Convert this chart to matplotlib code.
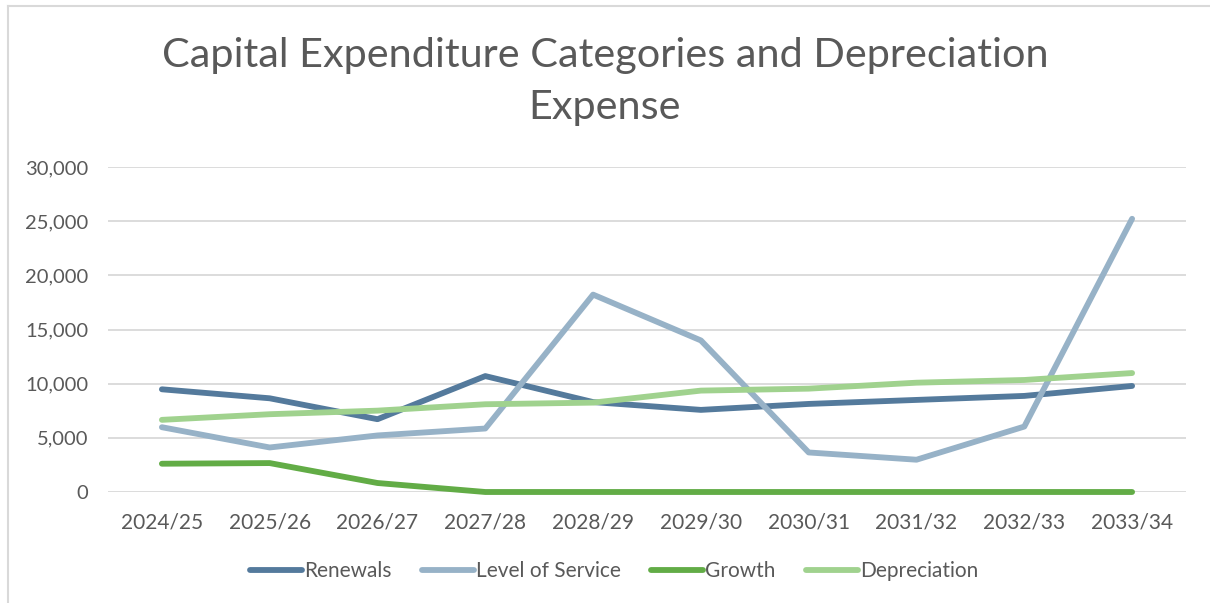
import matplotlib.pyplot as plt
from matplotlib.lines import Line2D
import numpy as np

plt.rcParams['font.family'] = ['Lato', 'DejaVu Sans']

years = ['2024/25', '2025/26', '2026/27', '2027/28', '2028/29',
         '2029/30', '2030/31', '2031/32', '2032/33', '2033/34']
renewals = [9480, 8650, 6720, 10700, 8300, 7580, 8130, 8500, 8870, 9790]
level_of_service = [5980, 4110, 5220, 5860, 18220, 13990, 3650, 2980, 6040, 25220]
growth = [2610, 2670, 830, 0, 0, 0, 0, 0, 0, 0]
depreciation = [6660, 7180, 7510, 8100, 8250, 9360, 9540, 10090, 10340, 10980]

SERIES = [
    ('Renewals', renewals, '#547A9C'),
    ('Level of Service', level_of_service, '#97B2C7'),
    ('Growth', growth, '#62AC46'),
    ('Depreciation', depreciation, '#A0D28E'),
]
TEXT_COLOR = '#595959'
GRID_COLOR = '#D9D9D9'

W, H = 1210, 603
fig = plt.figure(figsize=(W / 100, H / 100), dpi=100)
ax = fig.add_axes([108 / W, 1 - 492 / H, (1186 - 108) / W, (492 - 167) / H])

x = np.arange(len(years))
for name, vals, color in SERIES:
    ax.plot(x, vals, color=color, linewidth=4.2, solid_capstyle='round',
            solid_joinstyle='round', label=name, zorder=3, clip_on=False)

ax.set_xlim(-0.5, len(years) - 0.5)
ax.set_ylim(0, 30000)
ax.set_yticks(np.arange(0, 30001, 5000))
ax.set_yticklabels([f'{v:,}' for v in range(0, 30001, 5000)])
ax.set_xticks(x)
ax.set_xticklabels(years)
ax.grid(axis='y', color=GRID_COLOR, linewidth=1.3)
ax.set_axisbelow(True)
for spine in ax.spines.values():
    spine.set_visible(False)
ax.tick_params(axis='both', length=0, labelsize=14.5, labelcolor=TEXT_COLOR)
ax.tick_params(axis='x', labelsize=15, pad=15)
ax.tick_params(axis='y', pad=14)

fig.text(0.5, 1 - 55 / H, 'Capital Expenditure Categories and Depreciation',
         ha='center', va='center', fontsize=29.8, color=TEXT_COLOR)
fig.text(0.5, 1 - 108 / H, 'Expense',
         ha='center', va='center', fontsize=29.8, color=TEXT_COLOR)

handles = [Line2D([], [], color=c, linewidth=4.2, solid_capstyle='round') for _, _, c in SERIES]
fig.legend(handles, [s[0] for s in SERIES], loc='center', bbox_to_anchor=(614 / W, 1 - 571 / H),
           ncol=4, frameon=False, fontsize=15, labelcolor=TEXT_COLOR,
           handlelength=2.5, handletextpad=0.1, columnspacing=1.45)

# chart area border
fig.add_artist(Line2D([8 / W, 1], [1 - 6 / H, 1 - 6 / H], color=GRID_COLOR, linewidth=1.5,
                      transform=fig.transFigure))
fig.add_artist(Line2D([8 / W, 8 / W], [0, 1 - 6 / H], color=GRID_COLOR, linewidth=1.5,
                      transform=fig.transFigure))

fig.savefig('out.png', dpi=100)
